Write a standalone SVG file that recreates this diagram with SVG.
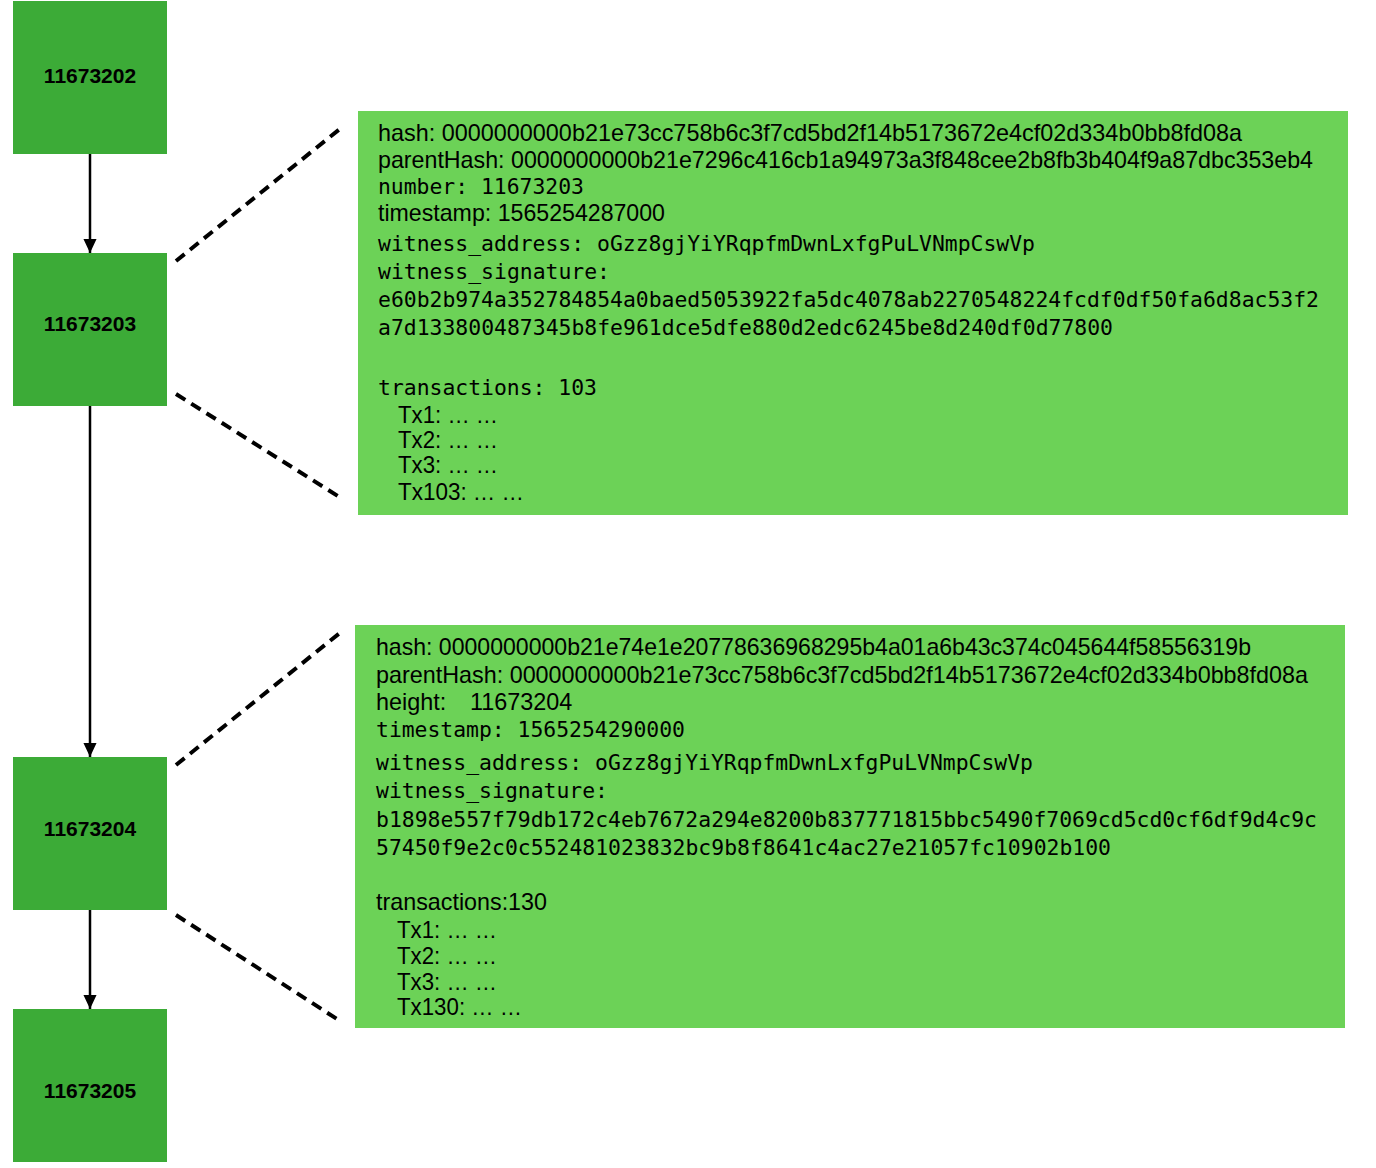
<svg xmlns="http://www.w3.org/2000/svg" width="1376" height="1168" viewBox="0 0 1376 1168">
<style>
.blk{fill:#3cab37}
.pnl{fill:#6cd257}
.lbl{font-family:"Liberation Sans",Arial,sans-serif;font-weight:bold;font-size:21px;fill:#000;text-anchor:middle}
.s{font-family:"Liberation Sans",Arial,sans-serif;font-size:23.4px;fill:#000}
.m{font-family:"DejaVu Sans Mono",monospace;font-size:21.4px;fill:#000}
.arr{stroke:#000;stroke-width:2.5;fill:none}
.dash{stroke:#000;stroke-width:4;stroke-dasharray:11 7;fill:none}
</style>
<defs>
<marker id="ah" markerWidth="14" markerHeight="15" viewBox="0 0 15 14" refX="15" refY="7" orient="auto" markerUnits="userSpaceOnUse">
<path d="M0,0 L15,7 L0,14 Z" fill="#000"/>
</marker>
</defs>
<rect width="1376" height="1168" fill="#fff"/>
<g id="connectors">
<line class="arr" x1="90" y1="154" x2="90" y2="253" marker-end="url(#ah)"/>
<line class="arr" x1="90" y1="406" x2="90" y2="757" marker-end="url(#ah)"/>
<line class="arr" x1="90" y1="910" x2="90" y2="1009" marker-end="url(#ah)"/>
<line class="dash" x1="176" y1="261" x2="341" y2="128"/>
<line class="dash" x1="176" y1="394" x2="341" y2="498"/>
<line class="dash" x1="176" y1="765" x2="341" y2="632"/>
<line class="dash" x1="176" y1="915" x2="340" y2="1021"/>
</g>
<g id="block-11673202">
<rect class="blk" x="13" y="1" width="154" height="153"/>
<text class="lbl" x="90" y="83">11673202</text>
</g>
<g id="block-11673203">
<rect class="blk" x="13" y="253" width="154" height="153"/>
<text class="lbl" x="90" y="331">11673203</text>
</g>
<g id="block-11673204">
<rect class="blk" x="13" y="757" width="154" height="153"/>
<text class="lbl" x="90" y="836">11673204</text>
</g>
<g id="block-11673205">
<rect class="blk" x="13" y="1009" width="154" height="153"/>
<text class="lbl" x="90" y="1098">11673205</text>
</g>
<g id="detail-11673203">
<rect class="pnl" x="358" y="111" width="990" height="404"/>
<text class="s" x="378" y="141" textLength="864" lengthAdjust="spacingAndGlyphs">hash: 0000000000b21e73cc758b6c3f7cd5bd2f14b5173672e4cf02d334b0bb8fd08a</text>
<text class="s" x="378" y="168" textLength="935" lengthAdjust="spacingAndGlyphs">parentHash: 0000000000b21e7296c416cb1a94973a3f848cee2b8fb3b404f9a87dbc353eb4</text>
<text class="m" x="378" y="194" textLength="206" lengthAdjust="spacingAndGlyphs">number: 11673203</text>
<text class="s" x="378" y="221" textLength="287" lengthAdjust="spacingAndGlyphs">timestamp: 1565254287000</text>
<text class="m" x="378" y="251" textLength="657" lengthAdjust="spacingAndGlyphs">witness_address: oGzz8gjYiYRqpfmDwnLxfgPuLVNmpCswVp</text>
<text class="m" x="378" y="279" textLength="232" lengthAdjust="spacingAndGlyphs">witness_signature:</text>
<text class="m" x="378" y="307" textLength="941" lengthAdjust="spacingAndGlyphs">e60b2b974a352784854a0baed5053922fa5dc4078ab2270548224fcdf0df50fa6d8ac53f2</text>
<text class="m" x="378" y="335" textLength="735" lengthAdjust="spacingAndGlyphs">a7d133800487345b8fe961dce5dfe880d2edc6245be8d240df0d77800</text>
<text class="m" x="378" y="395" textLength="219" lengthAdjust="spacingAndGlyphs">transactions: 103</text>
<text class="s" x="398" y="423" textLength="100" lengthAdjust="spacingAndGlyphs">Tx1: … …</text>
<text class="s" x="398" y="448" textLength="100" lengthAdjust="spacingAndGlyphs">Tx2: … …</text>
<text class="s" x="398" y="473" textLength="100" lengthAdjust="spacingAndGlyphs">Tx3: … …</text>
<text class="s" x="398" y="500" textLength="126" lengthAdjust="spacingAndGlyphs">Tx103: … …</text>
</g>
<g id="detail-11673204">
<rect class="pnl" x="355" y="625" width="990" height="403"/>
<text class="s" x="376" y="655" textLength="875" lengthAdjust="spacingAndGlyphs">hash: 0000000000b21e74e1e20778636968295b4a01a6b43c374c045644f58556319b</text>
<text class="s" x="376" y="683" textLength="932" lengthAdjust="spacingAndGlyphs">parentHash: 0000000000b21e73cc758b6c3f7cd5bd2f14b5173672e4cf02d334b0bb8fd08a</text>
<text class="s" x="376" y="710">height:  <tspan x="470">11673204</tspan></text>
<text class="m" x="376" y="737" textLength="309" lengthAdjust="spacingAndGlyphs">timestamp: 1565254290000</text>
<text class="m" x="376" y="770" textLength="657" lengthAdjust="spacingAndGlyphs">witness_address: oGzz8gjYiYRqpfmDwnLxfgPuLVNmpCswVp</text>
<text class="m" x="376" y="798" textLength="232" lengthAdjust="spacingAndGlyphs">witness_signature:</text>
<text class="m" x="376" y="827" textLength="941" lengthAdjust="spacingAndGlyphs">b1898e557f79db172c4eb7672a294e8200b837771815bbc5490f7069cd5cd0cf6df9d4c9c</text>
<text class="m" x="376" y="855" textLength="735" lengthAdjust="spacingAndGlyphs">57450f9e2c0c552481023832bc9b8f8641c4ac27e21057fc10902b100</text>
<text class="s" x="376" y="910" textLength="171" lengthAdjust="spacingAndGlyphs">transactions:130</text>
<text class="s" x="397" y="938" textLength="100" lengthAdjust="spacingAndGlyphs">Tx1: … …</text>
<text class="s" x="397" y="964" textLength="100" lengthAdjust="spacingAndGlyphs">Tx2: … …</text>
<text class="s" x="397" y="990" textLength="100" lengthAdjust="spacingAndGlyphs">Tx3: … …</text>
<text class="s" x="397" y="1015" textLength="125" lengthAdjust="spacingAndGlyphs">Tx130: … …</text>
</g>
</svg>
